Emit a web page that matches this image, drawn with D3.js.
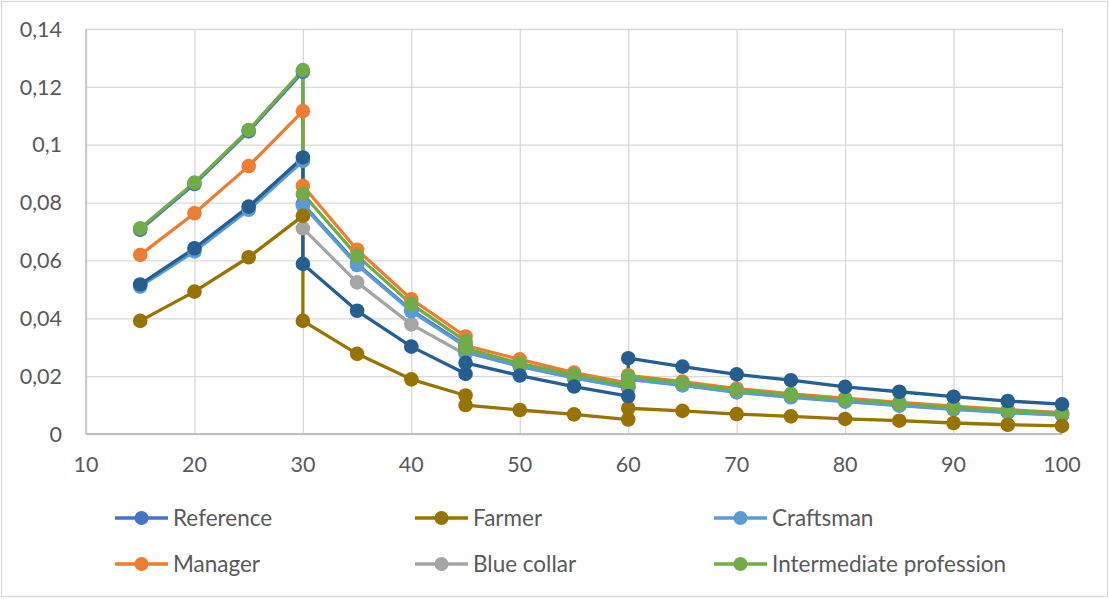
<!DOCTYPE html>
<html lang="en">
<head>
<meta charset="UTF-8">
<title>Rates by age and occupation</title>
<script src="https://d3js.org/d3.v7.min.js"></script>
<style>
    body { margin: 0; background: #fff; }
    svg text { font-family: Lato, "Open Sans", sans-serif; fill: #595959; }
    .grid line { stroke: #d9d9d9; stroke-width: 1.3px; }
    .grid path { display: none; }
    .tick-label { font-size: 21.5px; }
    .legend-text { font-size: 22.5px; }
</style>
</head>
<body>
<div id="chart"></div>
<script>
    // ages, with the break points (30, 45, 60) repeated to make the jumps
    const ages = [15, 20, 25, 30, 30, 35, 40, 45, 45, 50, 55, 60, 60, 65, 70, 75, 80, 85, 90, 95, 100];

    const reference    = [0.0706, 0.0864, 0.1046, 0.1252, 0.0795, 0.0588, 0.0428, 0.0306, 0.0286, 0.0237, 0.0197, 0.0162, 0.0192, 0.0171, 0.0147, 0.0130, 0.0115, 0.0101, 0.0088, 0.0077, 0.0068];
    const manager      = [0.0619, 0.0763, 0.0926, 0.1116, 0.0858, 0.0637, 0.0466, 0.0337, 0.0306, 0.0258, 0.0212, 0.0176, 0.0203, 0.0181, 0.0157, 0.0139, 0.0124, 0.0109, 0.0096, 0.0084, 0.0074];
    const blueCollar   = [null, null, null, null, 0.0711, 0.0524, 0.0379, 0.0275, 0.0284, 0.0234, 0.0194, 0.0160, 0.0190, 0.0169, 0.0145, 0.0128, 0.0113, 0.0099, 0.0086, 0.0075, 0.0066];
    const craftsman    = [0.0510, 0.0631, 0.0775, 0.0944, 0.0790, 0.0584, 0.0424, 0.0303, 0.0283, 0.0234, 0.0194, 0.0160, 0.0189, 0.0168, 0.0144, 0.0127, 0.0112, 0.0098, 0.0085, 0.0074, 0.0065];
    const intermediate = [0.0711, 0.0869, 0.1051, 0.1258, 0.0830, 0.0616, 0.0449, 0.0321, 0.0296, 0.0244, 0.0204, 0.0168, 0.0198, 0.0177, 0.0152, 0.0135, 0.0120, 0.0106, 0.0092, 0.0081, 0.0071];
    const farmer       = [0.0391, 0.0492, 0.0611, 0.0754, 0.0391, 0.0277, 0.0189, 0.0133, 0.0100, 0.0083, 0.0068, 0.0050, 0.0089, 0.0080, 0.0069, 0.0061, 0.0052, 0.0046, 0.0038, 0.0032, 0.0028];
    // extra series drawn in the chart but without a legend entry
    const unlabelled   = [0.0517, 0.0642, 0.0786, 0.0956, 0.0588, 0.0426, 0.0302, 0.0208, 0.0246, 0.0202, 0.0164, 0.0131, 0.0262, 0.0233, 0.0206, 0.0186, 0.0163, 0.0146, 0.0129, 0.0114, 0.0103];

    const xTicks = [10, 20, 30, 40, 50, 60, 70, 80, 90, 100];
    const yTicks = [0, 0.02, 0.04, 0.06, 0.08, 0.1, 0.12, 0.14];

    // drawing order (later on top)
    const series = [
        { name: "Reference", values: reference, color: "#4472c4" },
        { name: "Manager", values: manager, color: "#ed7d31" },
        { name: "Blue collar", values: blueCollar, color: "#a5a5a5" },
        { name: "Craftsman", values: craftsman, color: "#5b9bd5" },
        { name: "Intermediate profession", values: intermediate, color: "#70ad47" },
        { name: "Farmer", values: farmer, color: "#997300" },
        { name: null, values: unlabelled, color: "#255e91" }
    ];

    // legend order, row by row
    const legendNames = ["Reference", "Farmer", "Craftsman", "Manager", "Blue collar", "Intermediate profession"];

    const W = 1109, H = 599;
    const plot = { left: 86, right: 1062, top: 29, bottom: 434 };

    const svg = d3.select("#chart").append("svg")
        .attr("width", W)
        .attr("height", H);

    // chart border
    svg.append("rect")
        .attr("x", 1.5).attr("y", 1.5)
        .attr("width", W - 3).attr("height", H - 4)
        .attr("fill", "#fff")
        .attr("stroke", "#d9d9d9")
        .attr("stroke-width", 1.3);

    const x = d3.scaleLinear().domain([10, 100]).range([plot.left, plot.right]);
    const y = d3.scaleLinear().domain([0, 0.14]).range([plot.bottom, plot.top]);

    // gridlines
    svg.append("g")
        .attr("class", "grid")
        .attr("transform", `translate(${plot.left},0)`)
        .call(d3.axisLeft(y).tickValues(yTicks).tickSize(-(plot.right - plot.left)).tickFormat(""));

    svg.append("g")
        .attr("class", "grid")
        .attr("transform", `translate(0,${plot.bottom})`)
        .call(d3.axisBottom(x).tickValues(xTicks).tickSize(-(plot.bottom - plot.top)).tickFormat(""));

    // axis lines
    svg.append("line")
        .attr("x1", plot.left).attr("x2", plot.left)
        .attr("y1", plot.top).attr("y2", plot.bottom)
        .attr("stroke", "#bfbfbf").attr("stroke-width", 1.5);
    svg.append("line")
        .attr("x1", plot.left).attr("x2", plot.right)
        .attr("y1", plot.bottom).attr("y2", plot.bottom)
        .attr("stroke", "#bfbfbf").attr("stroke-width", 2);

    // tick labels
    const fmt = d => String(d).replace(".", ",");
    svg.append("g").selectAll("text")
        .data(yTicks)
        .join("text")
        .attr("class", "tick-label")
        .attr("x", plot.left - 24)
        .attr("y", d => y(d))
        .attr("dy", "0.36em")
        .attr("text-anchor", "end")
        .text(fmt);

    svg.append("g").selectAll("text")
        .data(xTicks)
        .join("text")
        .attr("class", "tick-label")
        .attr("x", d => x(d))
        .attr("y", 472)
        .attr("text-anchor", "middle")
        .text(d => d);

    const line = d3.line()
        .x(d => x(d[0]))
        .y(d => y(d[1]));

    const pts = s => ages.map((a, i) => [a, s.values[i]]).filter(d => d[1] != null);

    // lines first, then markers
    svg.append("g").selectAll("path")
        .data(series)
        .join("path")
        .attr("fill", "none")
        .attr("stroke", d => d.color)
        .attr("stroke-width", 3.3)
        .attr("stroke-linejoin", "round")
        .attr("d", d => line(pts(d)));

    series.forEach(s => {
        svg.append("g").selectAll("circle")
            .data(pts(s))
            .join("circle")
            .attr("cx", d => x(d[0]))
            .attr("cy", d => y(d[1]))
            .attr("r", 7.3)
            .attr("fill", s.color);
    });

    // legend
    const legendX = [115, 415, 714];
    const legendY = [518, 564];
    const legend = svg.append("g");
    legendNames.forEach((name, i) => {
        const s = series.find(d => d.name === name);
        const lx = legendX[i % 3], ly = legendY[Math.floor(i / 3)];
        const g = legend.append("g").attr("transform", `translate(${lx},${ly})`);
        g.append("line")
            .attr("x1", 0).attr("x2", 53)
            .attr("stroke", s.color).attr("stroke-width", 3.3);
        g.append("circle")
            .attr("cx", 26.5).attr("r", 7)
            .attr("fill", s.color);
        g.append("text")
            .attr("class", "legend-text")
            .attr("x", 58)
            .attr("dy", "0.36em")
            .text(name);
    });
</script>
</body>
</html>
